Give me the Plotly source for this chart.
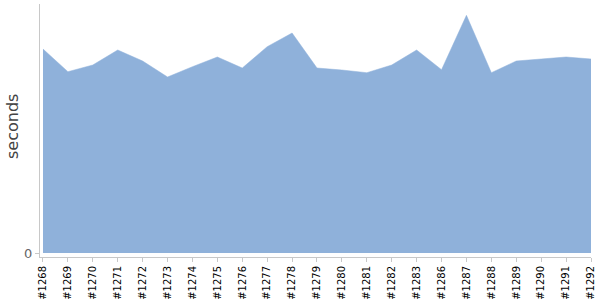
import plotly.graph_objects as go

builds = ["#1268", "#1269", "#1270", "#1271", "#1272", "#1273", "#1274", "#1275",
          "#1276", "#1277", "#1278", "#1279", "#1280", "#1281", "#1282", "#1283",
          "#1286", "#1287", "#1288", "#1289", "#1290", "#1291", "#1292"]
seconds = [204, 181.3, 188, 203, 192, 176, 186.3, 196, 185, 206.3, 220, 185,
           183, 180.3, 188, 203, 183.3, 237.7, 180.3, 192, 194, 196, 194]

fig = go.Figure()
fig.add_trace(go.Scatter(
    x=list(range(len(builds))), y=seconds, mode="lines",
    fill="tozeroy", fillcolor="#8fb1da",
    line=dict(color="#8fb1da", width=0.5),
    hoverinfo="skip", showlegend=False,
))

fig.update_layout(
    width=600, height=300,
    margin=dict(l=40, r=9, t=4, b=43),
    paper_bgcolor="white", plot_bgcolor="white",
    font=dict(family="DejaVu Sans", color="#000"),
    xaxis=dict(
        automargin=False,
        range=[-0.12, len(builds) - 1],
        tickmode="array", tickvals=list(range(len(builds))), ticktext=builds,
        tickangle=-90, tickfont=dict(size=10, color="#000"),
        showgrid=False, zeroline=False,
        showline=True, linecolor="#c8c8c8", linewidth=1,
        ticks="outside", ticklen=4, tickcolor="#c8c8c8",
    ),
    yaxis=dict(
        automargin=False,
        range=[-4, 249],
        tickmode="array", tickvals=[0], ticktext=["0"],
        tickfont=dict(size=13, color="#666"),
        showgrid=False, zeroline=False,
        showline=True, linecolor="#c8c8c8", linewidth=1,
        ticks="outside", ticklen=4, tickcolor="#c8c8c8",
    ),
    annotations=[dict(
        text="seconds", textangle=-90, showarrow=False,
        xref="paper", yref="paper",
        x=(13 - 40) / 551, y=(257 - 127) / 253,
        xanchor="center", yanchor="middle",
        font=dict(family="DejaVu Sans", size=16, color="#444"),
    )],
)

fig.write_html("out.html")
